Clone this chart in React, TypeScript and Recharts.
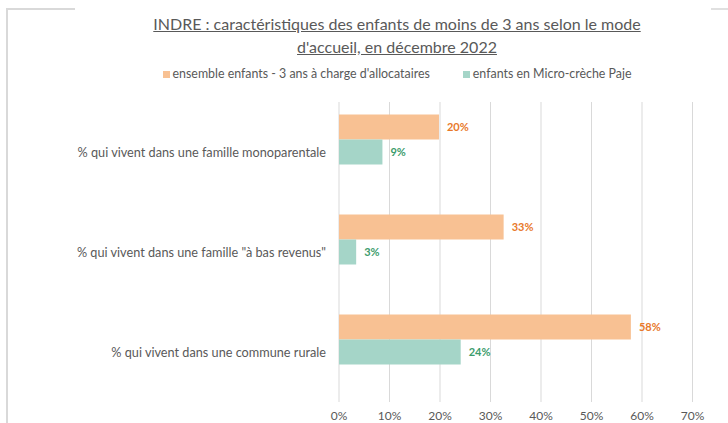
import React from 'react';
import { BarChart, Bar, XAxis, YAxis, CartesianGrid, LabelList } from 'recharts';

const categories = [
  '% qui vivent dans une famille monoparentale',
  '% qui vivent dans une famille "à bas revenus"',
  '% qui vivent dans une commune rurale',
];
const ensembleValues = [19.8, 32.6, 57.8];
const microCrecheValues = [8.6, 3.4, 24.1];
const xTicks = [0, 10, 20, 30, 40, 50, 60, 70];
const seriesNames = ["ensemble enfants - 3 ans à charge d'allocataires", 'enfants en Micro-crèche Paje'];
const seriesColors = ['#F8C193', '#A5D5C8'];
const labelColors = ['#E8782A', '#3C9C6C'];
const titleLines = ['INDRE : caractéristiques des enfants de moins de 3 ans selon le mode', "d'accueil, en décembre 2022"];

const data = categories.map((c, i) => ({
  category: c,
  ensemble: ensembleValues[i],
  micro: microCrecheValues[i],
}));

const FONT = 'Lato, "Open Sans", sans-serif';

export default function App() {
  return (
    <div style={{ position: 'absolute', left: 0, top: 0, width: 728, height: 423, background: '#fff', fontFamily: FONT, overflow: 'hidden' }}>
      <div style={{ position: 'absolute', left: 6, top: 8, width: 69, height: 2, background: '#D9D9D9' }} />
      <div style={{ position: 'absolute', left: 6, top: 8, width: 2, height: 415, background: '#D9D9D9' }} />
      <div style={{ position: 'absolute', left: 711, top: 8, width: 17, height: 2, background: '#E0E0E0' }} />
      <div style={{ position: 'absolute', left: 0, top: 12, width: 794, textAlign: 'center', color: '#595959', fontSize: 16, lineHeight: '23px', textDecoration: 'underline' }}>
        {titleLines.map((t, i) => (
          <div key={i}>{t}</div>
        ))}
      </div>
      <div style={{ position: 'absolute', left: 0, top: 66, width: 794, display: 'flex', justifyContent: 'center', gap: 33, fontSize: 12.4, color: '#595959', lineHeight: '16px' }}>
        {seriesNames.map((n, i) => (
          <div key={i} style={{ display: 'flex', alignItems: 'center' }}>
            <span style={{ display: 'inline-block', width: 7, height: 7, background: seriesColors[i], marginRight: 3 }} />
            <span>{n}</span>
          </div>
        ))}
      </div>
      <div style={{ position: 'absolute', left: 0, top: 0 }}>
        <BarChart
          width={728}
          height={423}
          data={data}
          layout="vertical"
          margin={{ top: 102, right: 35.5, bottom: 0, left: 0 }}
          barGap={0}
          barCategoryGap="12.5%"
          style={{ fontFamily: FONT }}
        >
          <CartesianGrid horizontal={false} vertical={true} stroke="#D9D9D9" />
          <XAxis
            type="number"
            domain={[0, 70]}
            ticks={xTicks}
            tickFormatter={(v: number) => `${v}%`}
            axisLine={false}
            tickLine={false}
            height={21}
            tickMargin={3}
            tick={{ fill: '#595959', fontSize: 12 }}
            interval={0}
          />
          <YAxis
            type="category"
            dataKey="category"
            width={339}
            axisLine={false}
            tickLine={false}
            tickMargin={7}
            tick={{ fill: '#595959', fontSize: 12.7 }}
            interval={0}
          />
          <Bar dataKey="ensemble" fill={seriesColors[0]} isAnimationActive={false}>
            <LabelList
              dataKey="ensemble"
              position="right"
              offset={8}
              formatter={(v: any) => `${Math.round(Number(v))}%`}
              style={{ fill: labelColors[0], fontSize: 11, fontWeight: 700 }}
            />
          </Bar>
          <Bar dataKey="micro" fill={seriesColors[1]} isAnimationActive={false}>
            <LabelList
              dataKey="micro"
              position="right"
              offset={8}
              formatter={(v: any) => `${Math.round(Number(v))}%`}
              style={{ fill: labelColors[1], fontSize: 11, fontWeight: 700 }}
            />
          </Bar>
          <Bar dataKey="spacer" fill="transparent" isAnimationActive={false} legendType="none" />
        </BarChart>
      </div>
    </div>
  );
}
